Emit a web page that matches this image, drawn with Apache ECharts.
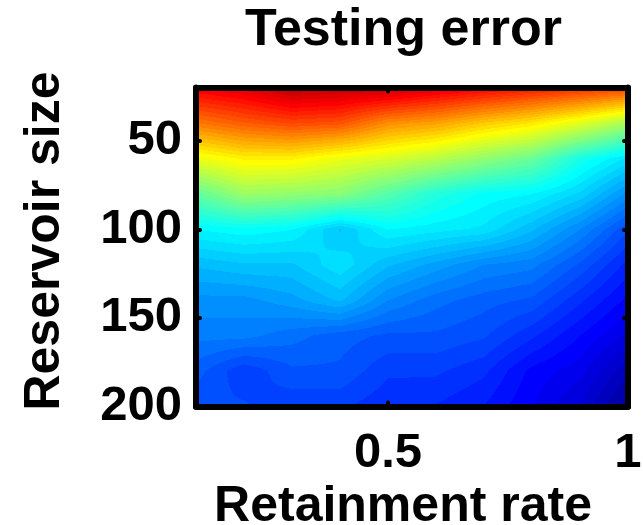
<!DOCTYPE html>
<html>
<head>
<meta charset="utf-8">
<script src="https://cdn.jsdelivr.net/npm/echarts@6/dist/echarts.min.js"></script>
<style>
  html, body { margin: 0; padding: 0; background: #fff; }
  #chart { width: 643px; height: 525px; }
</style>
</head>
<body>
<div id="chart"></div>
<script>
// Grid of retainment rates (columns) and reservoir sizes (rows)
const retainment = [0.1, 0.2, 0.3, 0.4, 0.5, 0.6, 0.7, 0.8, 0.9, 1.0];
const reservoir = [20, 40, 60, 80, 100, 120, 140, 160, 180, 200];

// Normalised testing error, one row per reservoir size
const err20  = [0.88, 0.90, 0.94, 0.93, 0.93, 0.90, 0.875, 0.85, 0.83, 0.81];
const err40  = [0.75, 0.78, 0.80, 0.79, 0.73, 0.71, 0.67, 0.64, 0.59, 0.53];
const err60  = [0.60, 0.63, 0.63, 0.60, 0.58, 0.55, 0.51, 0.47, 0.39, 0.34];
const err80  = [0.46, 0.52, 0.51, 0.50, 0.45, 0.40, 0.37, 0.36, 0.325, 0.26];
const err100 = [0.36, 0.37, 0.36, 0.31, 0.36, 0.35, 0.34, 0.30, 0.25, 0.19];
const err120 = [0.30, 0.31, 0.31, 0.34, 0.30, 0.275, 0.25, 0.24, 0.20, 0.15];
const err140 = [0.26, 0.26, 0.275, 0.30, 0.25, 0.225, 0.21, 0.20, 0.16, 0.12];
const err160 = [0.24, 0.24, 0.225, 0.21, 0.20, 0.20, 0.19, 0.16, 0.125, 0.09];
const err180 = [0.21, 0.175, 0.20, 0.20, 0.175, 0.175, 0.16, 0.12, 0.10, 0.05];
const err200 = [0.19, 0.19, 0.175, 0.175, 0.16, 0.155, 0.14, 0.11, 0.075, 0.02];
const errorRows = [err20, err40, err60, err80, err100, err120, err140, err160, err180, err200];

// Tick labels
const xTickLabels = [0.5, 1];
const yTickLabels = [50, 100, 150, 200];

// 64-level jet colormap
const JET_N = 64;
function jetU(k) { // k is 1-based position in the ramp
  if (k < 1 || k > 47) return 0;
  if (k <= 16) return k / 16;
  if (k <= 31) return 1;
  return (48 - k) / 16;
}
const jetColors = [];
for (let i = 1; i <= JET_N; i++) {
  const r = jetU(i - 24), g = jetU(i - 8), b = jetU(i + 8);
  jetColors.push('rgb(' + Math.round(r * 255) + ',' + Math.round(g * 255) + ',' + Math.round(b * 255) + ')');
}
function level(v) {
  return Math.min(JET_N - 1, Math.max(0, Math.floor(v * JET_N)));
}
// Fill for a horizontal strip whose value runs linearly from vl to vr
function stripFill(vl, vr) {
  const ql = level(vl), qr = level(vr);
  if (ql === qr) return jetColors[ql];
  const dir = qr > ql ? 1 : -1;
  const stops = [{ offset: 0, color: jetColors[ql] }];
  for (let q = ql; q !== qr; q += dir) {
    const b = dir > 0 ? (q + 1) / JET_N : q / JET_N;
    const o = Math.min(1, Math.max(0, (b - vl) / (vr - vl)));
    stops.push({ offset: o, color: jetColors[q] });
    stops.push({ offset: o, color: jetColors[q + dir] });
  }
  stops.push({ offset: 1, color: jetColors[qr] });
  return new echarts.graphic.LinearGradient(0, 0, 1, 0, stops);
}

// One patch per pair of neighbouring grid points
const cells = [];
for (let j = 0; j < reservoir.length - 1; j++) {
  for (let i = 0; i < retainment.length - 1; i++) {
    cells.push([
      retainment[i], retainment[i + 1], reservoir[j], reservoir[j + 1],
      errorRows[j][i], errorRows[j][i + 1], errorRows[j + 1][i], errorRows[j + 1][i + 1]
    ]);
  }
}

// Bilinear shading of one patch, drawn as 1px rows snapped to the pixel grid
function renderPatch(params, api) {
  const x0 = api.value(0), x1 = api.value(1), y0 = api.value(2), y1 = api.value(3);
  const v00 = api.value(4), v01 = api.value(5), v10 = api.value(6), v11 = api.value(7);
  const pA = api.coord([x0, y0]);
  const pB = api.coord([x1, y1]);
  const left = Math.round(Math.min(pA[0], pB[0]));
  const right = Math.round(Math.max(pA[0], pB[0]));
  const top = Math.round(Math.min(pA[1], pB[1]));
  const bottom = Math.round(Math.max(pA[1], pB[1]));
  const leftIsX0 = pA[0] <= pB[0];
  const children = [];
  for (let row = top; row < bottom; row++) {
    const yc = row + 0.5;
    const fy = Math.min(1, Math.max(0, (yc - pA[1]) / (pB[1] - pA[1])));
    const a = v00 + (v10 - v00) * fy;  // value at x0
    const b = v01 + (v11 - v01) * fy;  // value at x1
    const vl = leftIsX0 ? a : b, vr = leftIsX0 ? b : a;
    children.push({
      type: 'rect',
      shape: { x: left, y: row, width: right - left, height: 1 },
      style: { fill: stripFill(vl, vr) },
      silent: true
    });
  }
  return { type: 'group', children: children };
}

const FONT = 'Liberation Sans, Arial, Helvetica, sans-serif';
const lineStyle = { color: '#000', width: 6, cap: 'round' };
const tickStyle = { color: '#000', width: 4, cap: 'round' };

const chart = echarts.init(document.getElementById('chart'), null, { renderer: 'canvas' });
chart.setOption({
  backgroundColor: '#fff',
  animation: false,
  title: {
    text: 'Testing error',
    left: 240,
    top: 0,
    textStyle: { fontFamily: FONT, fontWeight: 'bold', fontSize: 52, color: '#000' }
  },
  grid: { left: 196, right: 15, top: 87.5, bottom: 118.5, containLabel: false, outerBoundsMode: 'none' },
  xAxis: [
    {
      type: 'value', min: 0.1, max: 1, position: 'bottom', z: 10,
      name: 'Retainment rate', nameLocation: 'middle', nameGap: 72,
      nameTextStyle: { fontFamily: FONT, fontWeight: 'bold', fontSize: 50, color: '#000', padding: [0, 18, 0, 0] },
      axisLine: { show: true, lineStyle: lineStyle },
      axisTick: { show: true, inside: true, length: 4, customValues: [0.5], lineStyle: tickStyle },
      axisLabel: {
        customValues: xTickLabels, margin: 22,
        fontFamily: FONT, fontWeight: 'bold', fontSize: 49, color: '#000',
        formatter: v => String(v)
      },
      splitLine: { show: false }
    },
    {
      type: 'value', min: 0.1, max: 1, position: 'top', z: 10,
      axisLine: { show: true, lineStyle: lineStyle },
      axisTick: { show: true, inside: true, length: 4, customValues: [0.5], lineStyle: tickStyle },
      axisLabel: { show: false },
      splitLine: { show: false }
    }
  ],
  yAxis: [
    {
      type: 'value', min: 20, max: 200, inverse: true, position: 'left', z: 10,
      name: 'Reservoir size', nameLocation: 'middle', nameGap: 126,
      nameTextStyle: { fontFamily: FONT, fontWeight: 'bold', fontSize: 50, color: '#000', padding: [0, 0, 0, 12] },
      axisLine: { show: true, lineStyle: lineStyle },
      axisTick: { show: true, inside: true, length: 4, customValues: [50, 100, 150], lineStyle: tickStyle },
      axisLabel: {
        customValues: yTickLabels, margin: 14,
        fontFamily: FONT, fontWeight: 'bold', fontSize: 49, color: '#000'
      },
      splitLine: { show: false }
    },
    {
      type: 'value', min: 20, max: 200, inverse: true, position: 'right', z: 10,
      axisLine: { show: true, lineStyle: lineStyle },
      axisTick: { show: true, inside: true, length: 4, customValues: [50, 100, 150], lineStyle: tickStyle },
      axisLabel: { show: false },
      splitLine: { show: false }
    }
  ],
  series: [{
    type: 'custom',
    name: 'Testing error',
    xAxisIndex: 0,
    yAxisIndex: 0,
    renderItem: renderPatch,
    data: cells,
    encode: { x: [0, 1], y: [2, 3] },
    clip: true,
    silent: true
  }]
});
</script>
</body>
</html>
